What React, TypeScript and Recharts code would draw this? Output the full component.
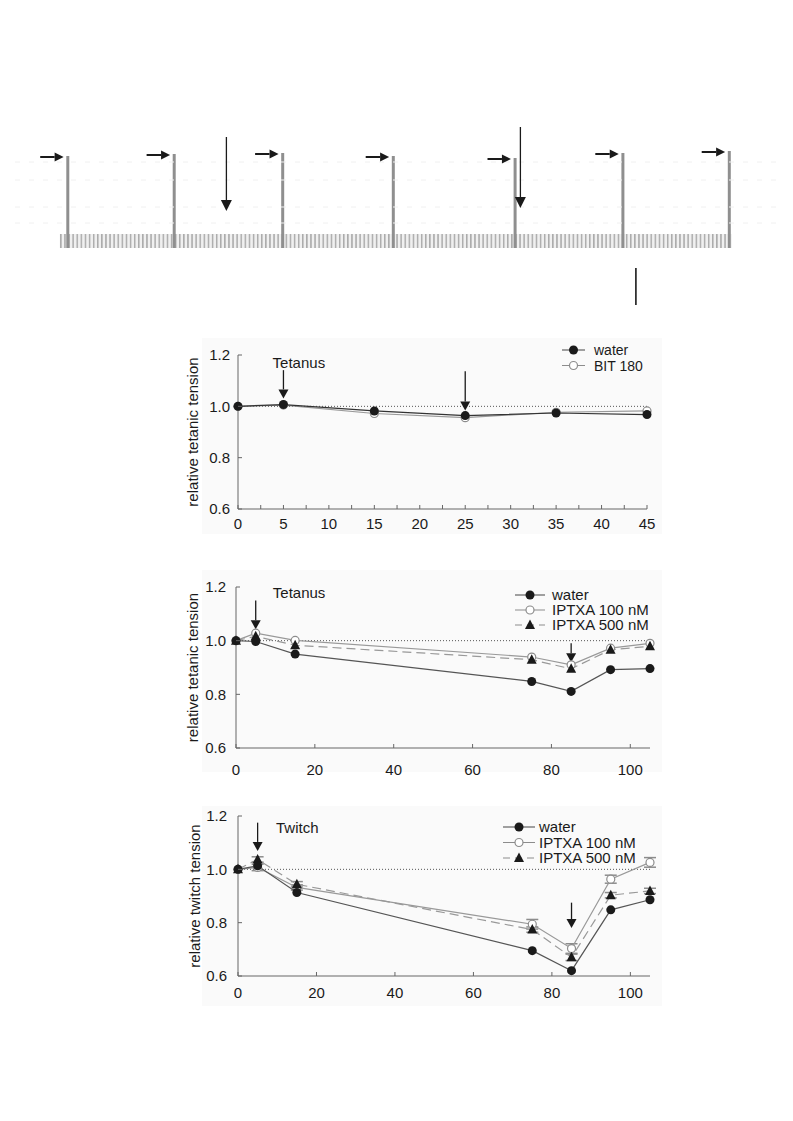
import React from 'react'
import {
  LineChart,
  Line,
  XAxis,
  YAxis,
  ReferenceLine,
  ReferenceDot,
  ReferenceArea,
  Legend,
  ErrorBar,
  ComposedChart,
  Bar,
} from 'recharts'

const FONT = '"Liberation Sans", Arial, sans-serif'
const INK = '#1a1a1a'
const AXIS = '#666'
const GREY = '#8c8c8c'
const PANEL = '#fafafa'

// --- recording trace (arbitrary time units, tension units) ---
const spikeTimes = [2.5, 17.7, 33.2, 49.0, 66.4, 81.8, 97.0]
const spikeHeights = [92, 94, 95, 92, 90, 95, 97]
const twitchBand = { start: 1.4, end: 97.4, height: 14 }
const traceArrows = [
  { t: 25.2, from: 111, to: 37 },
  { t: 67.2, from: 121, to: 40 },
]
const scaleMark = { t: 83.7, from: -20, to: -57 }
const paperLines = [86, 68, 41, 25]

// --- panel 1: BIT 180, tetanus ---
const time1 = [0, 5, 15, 25, 35, 45]
const water1 = [1.0, 1.007, 0.982, 0.964, 0.974, 0.968]
const bit1 = [1.0, 1.005, 0.972, 0.956, 0.977, 0.982]
const ticks1 = [0, 2.5, 5, 7.5, 10, 12.5, 15, 17.5, 20, 22.5, 25, 27.5, 30, 32.5, 35, 37.5, 40, 42.5, 45]
const arrows1 = [
  { x: 5, from: 1.141, to: 1.031 },
  { x: 25, from: 1.137, to: 0.984 },
]

// --- panel 2: IPTXA, tetanus ---
const time2 = [0, 5, 15, 75, 85, 95, 105]
const water2 = [1.0, 0.997, 0.95, 0.848, 0.811, 0.892, 0.896]
const iptxa100T = [1.0, 1.028, 1.001, 0.939, 0.91, 0.972, 0.99]
const iptxa500T = [1.0, 1.016, 0.983, 0.929, 0.895, 0.966, 0.979]
const arrows2 = [
  { x: 5, from: 1.15, to: 1.043 },
  { x: 85, from: 0.99, to: 0.92 },
]

// --- panel 3: IPTXA, twitch ---
const water3 = [1.0, 1.013, 0.913, 0.695, 0.62, 0.848, 0.886]
const iptxa100W = [1.0, 1.007, 0.932, 0.794, 0.703, 0.963, 1.026]
const iptxa100WErr = [0, 0.012, 0.01, 0.018, 0.018, 0.015, 0.018]
const iptxa500W = [1.0, 1.037, 0.944, 0.774, 0.67, 0.903, 0.919]
const iptxa500WErr = [0, 0.01, 0.01, 0.01, 0.012, 0.01, 0.01]
const arrows3 = [
  { x: 5, from: 1.175, to: 1.069 },
  { x: 85, from: 0.875, to: 0.78 },
]

const yTicks = [0.6, 0.8, 1.0, 1.2]
const xTicksLong = [0, 20, 40, 60, 80, 100]

const spikes = spikeTimes.map((t, i) => ({ t, h: spikeHeights[i] }))
const panel1 = time1.map((t, i) => ({ t, water: water1[i], bit: bit1[i] }))
const panel2 = time2.map((t, i) => ({ t, water: water2[i], p100: iptxa100T[i], p500: iptxa500T[i] }))
const panel3 = time2.map((t, i) => ({
  t,
  water: water3[i],
  p100: iptxa100W[i],
  e100: iptxa100WErr[i],
  p500: iptxa500W[i],
  e500: iptxa500WErr[i],
}))

function Arrow(props: any) {
  const { x1, y1, x2, y2, head = 9, half = 5, width = 1.3 } = props
  const dx = x2 - x1
  const dy = y2 - y1
  const len = Math.hypot(dx, dy) || 1
  const ux = dx / len
  const uy = dy / len
  const bx = x2 - ux * head
  const by = y2 - uy * head
  const px = -uy * half
  const py = ux * half
  return (
    <g>
      <line x1={x1} y1={y1} x2={bx} y2={by} stroke={INK} strokeWidth={width} />
      <polygon points={`${x2},${y2} ${bx + px},${by + py} ${bx - px},${by - py}`} fill={INK} />
    </g>
  )
}

const filledDot = (p: any) => <circle key={`f${p.index}`} cx={p.cx} cy={p.cy} r={4.5} fill={INK} />
const openDot = (p: any) => (
  <circle key={`o${p.index}`} cx={p.cx} cy={p.cy} r={4} fill="#fff" stroke={GREY} strokeWidth={1.2} />
)
const triDot = (p: any) => (
  <polygon
    key={`t${p.index}`}
    points={`${p.cx},${p.cy - 5.5} ${p.cx - 5},${p.cy + 4} ${p.cx + 5},${p.cy + 4}`}
    fill={INK}
  />
)

function XTick({ x, y, payload, gap, every }: any) {
  const v = payload.value
  const show = v % every === 0
  return (
    <g>
      <line x1={x} y1={y - 4} x2={x} y2={y} stroke={AXIS} />
      {show && (
        <text x={x} y={y + gap} textAnchor="middle" fontSize={15} fontFamily={FONT} fill={INK}>
          {v}
        </text>
      )}
    </g>
  )
}

function YTick({ x, y, payload, gap }: any) {
  return (
    <g>
      <line x1={x} y1={y} x2={x + 4} y2={y} stroke={AXIS} />
      <text x={x - gap} y={y} dy="0.36em" textAnchor="end" fontSize={15} fontFamily={FONT} fill={INK}>
        {payload.value.toFixed(1)}
      </text>
    </g>
  )
}

type LegendItem = { label: string; dot: 'filled' | 'open' | 'tri'; stroke: string; dash?: string }

function LegendBox({
  items,
  lineW,
  textGap,
  rowH,
  fontSize = 15,
}: {
  items: LegendItem[]
  lineW: number
  textGap: number
  rowH: number
  fontSize?: number
}) {
  return (
    <svg width={170} height={items.length * rowH + 6} style={{ overflow: 'visible', display: 'block' }}>
      {items.map((it, i) => {
        const cy = i * rowH + 6
        const cx = lineW / 2
        return (
          <g key={it.label}>
            <line x1={0} y1={cy} x2={lineW} y2={cy} stroke={it.stroke} strokeDasharray={it.dash} />
            {it.dot === 'filled' && filledDot({ cx, cy, index: i })}
            {it.dot === 'open' && openDot({ cx, cy, index: i })}
            {it.dot === 'tri' && triDot({ cx, cy, index: i })}
            <text x={lineW + textGap} y={cy} dy="0.36em" fontSize={fontSize} fontFamily={FONT} fill={INK}>
              {it.label}
            </text>
          </g>
        )
      })}
    </svg>
  )
}

const axisLabel = (value: string, offset: number) => ({
  value,
  angle: -90,
  position: 'insideLeft' as const,
  offset,
  style: { textAnchor: 'middle', fontSize: 15, fontFamily: FONT, fill: INK },
})

const iptxaLegend: LegendItem[] = [
  { label: 'water', dot: 'filled', stroke: '#444' },
  { label: 'IPTXA 100 nM', dot: 'open', stroke: GREY },
  { label: 'IPTXA 500 nM', dot: 'tri', stroke: GREY, dash: '7 5' },
]

function TraceChart() {
  return (
    <div style={{ position: 'absolute', left: 15, top: 118 }}>
      <svg width={0} height={0} style={{ position: 'absolute' }}>
        <defs>
          <pattern id="twitches" patternUnits="userSpaceOnUse" width={4.1} height={40}>
            <rect x={0} y={0} width={1.5} height={40} fill="#ababab" />
          </pattern>
        </defs>
      </svg>
      <ComposedChart width={770} height={190} data={spikes} margin={{ top: 0, right: 0, bottom: 0, left: 0 }}>
        <XAxis dataKey="t" type="number" domain={[-5, 105]} hide />
        <YAxis type="number" domain={[-60, 130]} hide />
        {paperLines.map((v) => (
          <ReferenceLine key={v} y={v} stroke="#f0f0f0" strokeDasharray="5 9" />
        ))}
        <ReferenceArea
          x1={twitchBand.start}
          x2={twitchBand.end}
          y1={0}
          y2={twitchBand.height}
          fill="#f0f0f0"
          fillOpacity={1}
        />
        <ReferenceArea
          x1={twitchBand.start}
          x2={twitchBand.end}
          y1={0}
          y2={twitchBand.height}
          fill="url(#twitches)"
          fillOpacity={1}
        />
        <Bar dataKey="h" barSize={3} fill="#8f8f8f" isAnimationActive={false} />
        {spikes.map((s) => (
          <ReferenceLine
            key={`r${s.t}`}
            ifOverflow="visible"
            segment={[{ x: s.t - 3.9, y: s.h - 1 }, { x: s.t - 0.55, y: s.h - 1 }]}
            shape={(p: any) => <Arrow {...p} head={9} half={4.5} width={2} />}
          />
        ))}
        {traceArrows.map((a) => (
          <ReferenceLine
            key={`d${a.t}`}
            ifOverflow="visible"
            segment={[{ x: a.t, y: a.from }, { x: a.t, y: a.to }]}
            shape={(p: any) => <Arrow {...p} head={11} half={5.5} width={1.3} />}
          />
        ))}
        <ReferenceLine
          ifOverflow="visible"
          segment={[{ x: scaleMark.t, y: scaleMark.from }, { x: scaleMark.t, y: scaleMark.to }]}
          stroke={INK}
          strokeWidth={1.6}
        />
      </ComposedChart>
    </div>
  )
}

function Panel1() {
  return (
    <div style={{ position: 'absolute', left: 170, top: 340 }}>
      <LineChart width={490} height={200} data={panel1} margin={{ top: 15, right: 13, bottom: 1, left: 0 }}>
        <XAxis
          dataKey="t"
          type="number"
          domain={[0, 45]}
          ticks={ticks1}
          interval={0}
          stroke={AXIS}
          tickSize={0}
          tickMargin={0}
          tick={(p: any) => <XTick {...p} gap={20} every={5} />}
        />
        <YAxis
          type="number"
          domain={[0.6, 1.2]}
          ticks={yTicks}
          interval={0}
          width={68}
          stroke={AXIS}
          tickSize={0}
          tickMargin={0}
          tick={(p: any) => <YTick {...p} gap={8} />}
          label={axisLabel('relative tetanic tension', 23)}
        />
        <ReferenceLine y={1} stroke="#555" strokeDasharray="1 2" />
        <Line dataKey="bit" stroke="#999" strokeWidth={1.2} dot={openDot} isAnimationActive={false} />
        <Line dataKey="water" stroke="#333" strokeWidth={1.2} dot={filledDot} isAnimationActive={false} />
        {arrows1.map((a) => (
          <ReferenceLine
            key={a.x}
            ifOverflow="visible"
            segment={[{ x: a.x, y: a.from }, { x: a.x, y: a.to }]}
            shape={(p: any) => <Arrow {...p} />}
          />
        ))}
        <ReferenceDot
          x={6.7}
          y={1.169}
          r={0}
          ifOverflow="visible"
          label={{ value: 'Tetanus', position: 'center', fontSize: 15, fontFamily: FONT, fill: INK }}
        />
        <Legend
          layout="horizontal"
          verticalAlign="middle"
          align="center"
          wrapperStyle={{ left: 392, top: 4, width: 170, height: 32 }}
          content={() => (
            <LegendBox
              lineW={23}
              textGap={9}
              rowH={15.5}
              fontSize={14}
              items={[
                { label: 'water', dot: 'filled', stroke: '#444' },
                { label: 'BIT 180', dot: 'open', stroke: GREY },
              ]}
            />
          )}
        />
      </LineChart>
    </div>
  )
}

function Panel2() {
  return (
    <div style={{ position: 'absolute', left: 170, top: 570 }}>
      <LineChart width={490} height={210} data={panel2} margin={{ top: 17, right: 10, bottom: 2, left: 0 }}>
        <XAxis
          dataKey="t"
          type="number"
          domain={[0, 105]}
          ticks={xTicksLong}
          interval={0}
          stroke={AXIS}
          tickSize={0}
          tickMargin={0}
          tick={(p: any) => <XTick {...p} gap={27} every={20} />}
        />
        <YAxis
          type="number"
          domain={[0.6, 1.2]}
          ticks={yTicks}
          interval={0}
          width={66}
          stroke={AXIS}
          tickSize={0}
          tickMargin={0}
          tick={(p: any) => <YTick {...p} gap={10} />}
          label={axisLabel('relative tetanic tension', 23)}
        />
        <ReferenceLine y={1} stroke="#555" strokeDasharray="1 2" />
        <Line dataKey="p100" stroke="#999" strokeWidth={1.2} dot={openDot} isAnimationActive={false} />
        <Line
          dataKey="p500"
          stroke="#999"
          strokeWidth={1.2}
          strokeDasharray="9 5"
          dot={triDot}
          isAnimationActive={false}
        />
        <Line dataKey="water" stroke="#555" strokeWidth={1.2} dot={filledDot} isAnimationActive={false} />
        {arrows2.map((a) => (
          <ReferenceLine
            key={a.x}
            ifOverflow="visible"
            segment={[{ x: a.x, y: a.from }, { x: a.x, y: a.to }]}
            shape={(p: any) => <Arrow {...p} />}
          />
        ))}
        <ReferenceDot
          x={16}
          y={1.177}
          r={0}
          ifOverflow="visible"
          label={{ value: 'Tetanus', position: 'center', fontSize: 15, fontFamily: FONT, fill: INK }}
        />
        <Legend
          layout="horizontal"
          verticalAlign="middle"
          align="center"
          wrapperStyle={{ left: 345, top: 19, width: 170, height: 50 }}
          content={() => <LegendBox lineW={30} textGap={7} rowH={15} items={iptxaLegend} />}
        />
      </LineChart>
    </div>
  )
}

function Panel3() {
  return (
    <div style={{ position: 'absolute', left: 170, top: 800 }}>
      <LineChart width={490} height={210} data={panel3} margin={{ top: 16, right: 10, bottom: 4, left: 0 }}>
        <XAxis
          dataKey="t"
          type="number"
          domain={[0, 105]}
          ticks={xTicksLong}
          interval={0}
          stroke={AXIS}
          tickSize={0}
          tickMargin={0}
          tick={(p: any) => <XTick {...p} gap={22} every={20} />}
        />
        <YAxis
          type="number"
          domain={[0.6, 1.2]}
          ticks={yTicks}
          interval={0}
          width={68}
          stroke={AXIS}
          tickSize={0}
          tickMargin={0}
          tick={(p: any) => <YTick {...p} gap={11} />}
          label={axisLabel('relative twitch tension', 25)}
        />
        <ReferenceLine y={1} stroke="#555" strokeDasharray="1 2" />
        <Line dataKey="p100" stroke="#999" strokeWidth={1.2} dot={openDot} isAnimationActive={false}>
          <ErrorBar dataKey="e100" width={6} stroke={GREY} direction="y" />
        </Line>
        <Line
          dataKey="p500"
          stroke="#999"
          strokeWidth={1.2}
          strokeDasharray="9 5"
          dot={triDot}
          isAnimationActive={false}
        >
          <ErrorBar dataKey="e500" width={6} stroke={GREY} direction="y" />
        </Line>
        <Line dataKey="water" stroke="#555" strokeWidth={1.2} dot={filledDot} isAnimationActive={false} />
        {arrows3.map((a) => (
          <ReferenceLine
            key={a.x}
            ifOverflow="visible"
            segment={[{ x: a.x, y: a.from }, { x: a.x, y: a.to }]}
            shape={(p: any) => <Arrow {...p} />}
          />
        ))}
        <ReferenceDot
          x={15.1}
          y={1.158}
          r={0}
          ifOverflow="visible"
          label={{ value: 'Twitch', position: 'center', fontSize: 15, fontFamily: FONT, fill: INK }}
        />
        <Legend
          layout="horizontal"
          verticalAlign="middle"
          align="center"
          wrapperStyle={{ left: 333, top: 20.7, width: 170, height: 50 }}
          content={() => <LegendBox lineW={32} textGap={4} rowH={15.5} items={iptxaLegend} />}
        />
      </LineChart>
    </div>
  )
}

export default function App() {
  return (
    <div
      style={{
        position: 'absolute',
        left: 0,
        top: 0,
        width: 793,
        height: 1121,
        background: '#fff',
        fontFamily: FONT,
      }}
    >
      <div style={{ position: 'absolute', left: 202, top: 338, width: 460, height: 196, background: PANEL }} />
      <div style={{ position: 'absolute', left: 202, top: 570, width: 460, height: 202, background: PANEL }} />
      <div style={{ position: 'absolute', left: 202, top: 806, width: 460, height: 200, background: PANEL }} />
      <TraceChart />
      <Panel1 />
      <Panel2 />
      <Panel3 />
    </div>
  )
}
